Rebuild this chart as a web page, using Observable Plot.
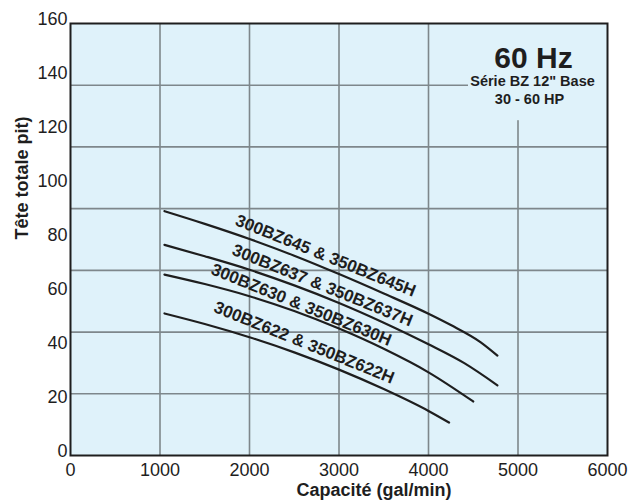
<!DOCTYPE html>
<html><head><meta charset="utf-8">
<script src="https://cdn.jsdelivr.net/npm/d3@7"></script>
<script src="https://cdn.jsdelivr.net/npm/@observablehq/plot@0.6"></script>
<style>body{margin:0;background:#fff} svg{display:block}</style>
</head><body><div id="chart"></div>
<script>
// ---- data ----
const xTicks = [0, 1000, 2000, 3000, 4000, 5000, 6000];
const yTicks = [0, 20, 40, 60, 80, 100, 120, 140, 160];
const gridX = [1000, 2000, 3000, 4000, 5000];
const gridY = [22.86, 45.71, 68.57, 91.43, 114.29, 137.14];

const models = ["300BZ645 & 350BZ645H", "300BZ637 & 350BZ637H", "300BZ630 & 350BZ630H", "300BZ622 & 350BZ622H"];

const flow645 = [1050, 1500, 2000, 2500, 3000, 3500, 4000, 4250, 4580, 4770];
const head645 = [90.5, 85.8, 80.2, 74, 67.2, 60, 52.5, 48.3, 42, 37];
const flow637 = [1050, 1500, 2000, 2500, 3000, 3500, 4000, 4400, 4770];
const head637 = [78, 73.8, 68.8, 63, 56.5, 49.2, 41.2, 34.2, 26];
const flow630 = [1050, 1500, 2000, 2500, 3000, 3500, 4000, 4500];
const head630 = [67, 63.5, 59, 53.5, 47, 39.5, 30.8, 20];
const flow622 = [1050, 1500, 2000, 2500, 3000, 3500, 4000, 4230];
const head622 = [52.6, 48.7, 43.8, 38.2, 31.8, 24.6, 16.5, 12.2];

const labelX = [2850, 2815, 2580, 2610];
const labelY = [74, 63, 55.8, 41.8];

const boxTitle = "60 Hz";
const boxLine1 = "Série BZ 12\" Base";
const boxLine2 = "30 - 60 HP";
const xTitle = "Capacité (gal/min)";
const yTitle = "Tête totale pit)";

// ---- build tables ----
const flows = [flow645, flow637, flow630, flow622];
const heads = [head645, head637, head630, head622];
const rows = [];
models.forEach((m, i) => flows[i].forEach((f, j) => rows.push({model: m, x: f, y: heads[i][j]})));
const labels = models.map((m, i) => ({text: m, x: labelX[i], y: labelY[i]}));

const BG = "#dff2fa";
const GRID = "#7e878b";
const INK = "#1e1e1e";
const FONT = "'Liberation Sans', Arial, Helvetica, sans-serif";

const chart = Plot.plot({
  width: 638, height: 501,
  marginLeft: 70, marginRight: 31, marginTop: 23, marginBottom: 46,
  x: {domain: [0, 6000]},
  y: {domain: [0, 160]},
  style: {fontFamily: FONT, fontSize: "18px", color: INK, background: "transparent", overflow: "visible"},
  marks: [
    Plot.frame({fill: BG, stroke: null}),
    Plot.ruleX(gridX, {stroke: GRID, strokeWidth: 1.6}),
    Plot.ruleY(gridY, {stroke: GRID, strokeWidth: 1.6}),
    Plot.rect([{x1: 4447, x2: 6000, y1: 124, y2: 160}], {x1: "x1", x2: "x2", y1: "y1", y2: "y2", fill: BG}),
    Plot.line(rows, {x: "x", y: "y", z: "model", curve: "monotone-x", stroke: INK, strokeWidth: 2.2}),
    Plot.text(labels, {x: "x", y: "y", text: "text", rotate: 22, fontWeight: "bold", fontSize: 17, fill: INK}),
    Plot.frame({stroke: INK, strokeWidth: 2}),
    Plot.axisX({ticks: xTicks, tickSize: 0, tickPadding: 8, tickFormat: d => String(d), label: null, fontSize: 18}),
    Plot.axisY({ticks: yTicks, tickSize: 0, tickPadding: 3, dy: -4, tickFormat: d => String(d), label: null, fontSize: 18}),
    Plot.text([xTitle], {text: d => d, frameAnchor: "bottom", dx: 35, dy: 35, lineAnchor: "middle", fontWeight: "bold", fontSize: 18, fill: INK}),
    Plot.text([yTitle], {text: d => d, frameAnchor: "left", dx: -48, rotate: -90, lineAnchor: "middle", fontWeight: "bold", fontSize: 18, fill: INK}),
    Plot.text([boxTitle], {text: d => d, frameAnchor: "top-right", dx: -74, dy: 35, lineAnchor: "middle", textAnchor: "middle", fontWeight: "bold", fontSize: 30, fill: INK}),
    Plot.text([boxLine1], {text: d => d, frameAnchor: "top-right", dx: -75, dy: 58, lineAnchor: "middle", textAnchor: "middle", fontWeight: "bold", fontSize: 14.5, fill: INK}),
    Plot.text([boxLine2], {text: d => d, frameAnchor: "top-right", dx: -78, dy: 76, lineAnchor: "middle", textAnchor: "middle", fontWeight: "bold", fontSize: 14.5, fill: INK})
  ]
});
document.getElementById("chart").appendChild(chart);
</script>
</body></html>
